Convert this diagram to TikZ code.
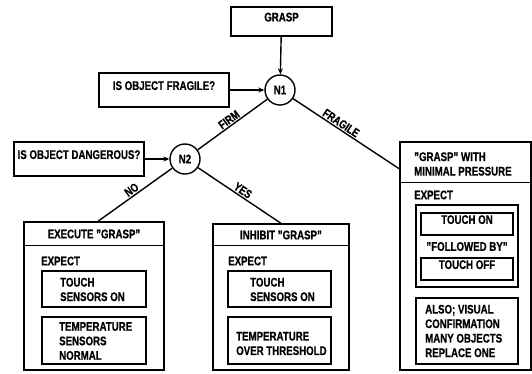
\documentclass[tikz,border=0pt]{standalone}
\usepackage{fontspec}
\setmainfont{Liberation Sans}[FakeStretch=0.775, BoldFeatures={FakeBold=0.6}]
\usetikzlibrary{arrows.meta,calc,fit}
\begin{document}
\begin{tikzpicture}[x=1pt,y=-1pt,
  every node/.style={font=\fontsize{12.5}{14.5}\selectfont\bfseries},
  box/.style={draw, line width=1.4pt, inner sep=0pt},
  junction/.style={draw, circle, line width=1.4pt, minimum size=30pt, inner sep=0pt},
  link/.style={line width=1.4pt},
  feed/.style={link, -{Stealth[length=6pt,width=5pt]}},
  txt/.style={inner sep=0pt, align=left, anchor=west},
  edgelabel/.style={sloped, above, inner sep=1.2pt, font=\fontsize{12}{13}\selectfont\bfseries}
]
\useasboundingbox (0,0) rectangle (532,373);

% decision chain
\node[box, fit={(231,7)(332,36)}] (grasp) {GRASP};
\node[junction] (n1) at (280,90) {N1};
\node[box, fit={(99,73)(229,107)}] (fragq) {IS OBJECT FRAGILE?};
\node[junction] (n2) at (185,159) {N2};
\node[box, fit={(14,142)(144,176)}] (dangq) {IS OBJECT DANGEROUS?};

\draw[feed] (grasp) -- (n1);
\draw[feed] (fragq) -- (n1);
\draw[feed] (dangq) -- (n2);

% outcome: execute
\node[box, fit={(24,222)(164,370)}] (exec) {};
\draw[link] ($(exec.north west)+(0,24)$) -- ($(exec.north east)+(0,24)$);
\node (exechead) at (94,234) {EXECUTE "GRASP"};
\node[txt] (execexp) at (41,261) {EXPECT};
\node[box, fit={(42,271)(146,307)}] (exectouch) {};
\node[txt] (exectouchtxt) at (60,289.5) {TOUCH\\SENSORS ON};
\node[box, fit={(42,317)(146,364)}] (exectemp) {};
\node[txt] (exectemptxt) at (59,341) {TEMPERATURE\\SENSORS\\NORMAL};

% outcome: inhibit
\node[box, fit={(213,224)(349,370)}] (inhib) {};
\draw[link] ($(inhib.north west)+(0,22)$) -- ($(inhib.north east)+(0,22)$);
\node (inhibhead) at (281,235) {INHIBIT "GRASP"};
\node[txt] (inhibexp) at (228,261) {EXPECT};
\node[box, fit={(228,271)(331,307)}] (inhibtouch) {};
\node[txt] (inhibtouchtxt) at (250,289.5) {TOUCH\\SENSORS ON};
\node[box, fit={(228,317)(331,364)}] (inhibtemp) {};
\node[txt] (inhibtemptxt) at (236,343.5) {TEMPERATURE\\OVER THRESHOLD};

% outcome: gentle grasp
\node[box, fit={(400,142)(531,370)}] (gentle) {};
\draw[link] ($(gentle.north west)+(0,41)$) -- ($(gentle.north east)+(0,41)$);
\node[txt] (gentlehead) at (414,164) {"GRASP" WITH\\MINIMAL PRESSURE};
\node[txt] (gentleexp) at (414,195) {EXPECT};
\node[box, fit={(416,205)(518,287)}] (gentleseq) {};
\node[box, fit={(421,213)(513,235)}] (touchon) {TOUCH ON};
\node (followed) at (467,246.5) {"FOLLOWED BY"};
\node[box, fit={(421,258)(513,280)}] (touchoff) {TOUCH OFF};
\node[box, fit={(416,298)(518,364)}] (gentlealso) {};
\node[txt] (gentlealsotxt) at (425,331) {ALSO; VISUAL\\CONFIRMATION\\MANY OBJECTS\\REPLACE ONE};

% branches
\draw[link] (n1) -- node[edgelabel] {FIRM} (n2);
\draw[link] (n1) -- node[edgelabel, pos=0.42] {FRAGILE} ($(gentle.north west)!0.12!(gentle.south west)$);
\draw[link] (n2) -- node[edgelabel] {NO} ($(exec.north)+(4,0)$);
\draw[link] (n2) -- node[edgelabel] {YES} (inhib.north);
\end{tikzpicture}
\end{document}
